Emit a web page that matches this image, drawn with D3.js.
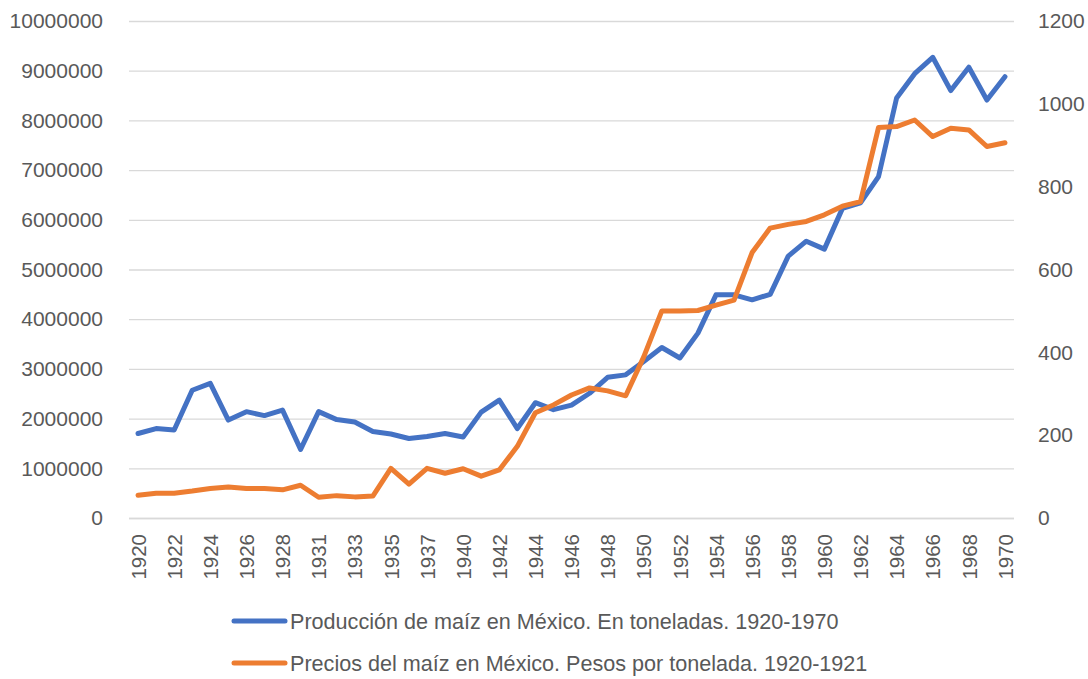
<!DOCTYPE html>
<html>
<head>
<meta charset="utf-8">
<script src="https://cdn.jsdelivr.net/npm/d3@7"></script>
<style>
  body { margin: 0; background: #fff; }
  text { font-family: "Liberation Sans", Arial, sans-serif; fill: #595959; }
</style>
</head>
<body>
<div class="graph"></div>
<script>
// categories (two years are absent from the source table)
var years = ["1920","1921","1922","1923","1924","1925","1926","1927","1928","1929",
  "1931","1932","1933","1934","1935","1936","1937","1938",
  "1940","1941","1942","1943","1944","1945","1946","1947","1948","1949",
  "1950","1951","1952","1953","1954","1955","1956","1957","1958","1959",
  "1960","1961","1962","1963","1964","1965","1966","1967","1968","1969","1970"];

// tonnes
var produccion = [1700000,1800000,1770000,2570000,2710000,1970000,2140000,2060000,2170000,1380000,
  2140000,1980000,1930000,1740000,1690000,1600000,1640000,1700000,
  1630000,2130000,2370000,1800000,2320000,2180000,2270000,2510000,2830000,2880000,
  3150000,3430000,3220000,3720000,4490000,4490000,4390000,4500000,5270000,5570000,
  5410000,6230000,6340000,6870000,8450000,8940000,9270000,8600000,9070000,8410000,8880000];

// pesos per tonne
var precios = [55,60,60,65,71,75,71,71,68,79,
  50,54,51,53,120,82,120,108,
  119,101,116,173,254,273,297,314,307,295,
  389,500,500,501,514,526,641,700,709,716,
  732,753,764,943,945,961,921,941,937,897,906];

var leftTicks = [0,1000000,2000000,3000000,4000000,5000000,6000000,7000000,8000000,9000000,10000000];
var rightTicks = [0,200,400,600,800,1000,1200];

var seriesNames = ["Producción de maíz en México. En toneladas. 1920-1970",
  "Precios del maíz en México. Pesos por tonelada. 1920-1921"];
var colors = ["#4472C4", "#ED7D31"];

const w = 1088, h = 679;
const pLeft = 129, pRight = 1014, pTop = 21, pBottom = 518;

const svg = d3.select(".graph").append("svg")
  .attr("width", w).attr("height", h);

const x = d3.scalePoint().domain(years).range([pLeft, pRight]).padding(0.5);
const yL = d3.scaleLinear().domain([0, 10000000]).range([pBottom, pTop]);
const yR = d3.scaleLinear().domain([0, 1200]).range([pBottom, pTop]);

// gridlines
svg.append("g")
  .attr("transform", "translate(" + pLeft + ",0)")
  .call(d3.axisLeft(yL).tickValues(leftTicks).tickSize(-(pRight - pLeft)).tickFormat(""))
  .call(g => g.select(".domain").remove())
  .selectAll("line").attr("stroke", "#D9D9D9").attr("stroke-width", 1.3);

// left axis labels
svg.append("g")
  .attr("transform", "translate(" + (pLeft - 23) + ",0)")
  .call(d3.axisLeft(yL).tickValues(leftTicks).tickSize(0).tickFormat(d3.format("d")))
  .call(g => g.select(".domain").remove())
  .selectAll("text").style("font-size", "21px").attr("fill", "#595959")
  .attr("font-family", "Liberation Sans, Arial, sans-serif");

// right axis labels
svg.append("g")
  .attr("transform", "translate(" + (pRight + 21) + ",0)")
  .call(d3.axisRight(yR).tickValues(rightTicks).tickSize(0).tickFormat(d3.format("d")))
  .call(g => g.select(".domain").remove())
  .selectAll("text").style("font-size", "21px").attr("fill", "#595959")
  .attr("font-family", "Liberation Sans, Arial, sans-serif");

// x axis, every other label, rotated
svg.append("g")
  .attr("transform", "translate(0," + pBottom + ")")
  .call(d3.axisBottom(x).tickValues(years.filter((d, i) => i % 2 === 0)).tickSize(0))
  .call(g => g.select(".domain").attr("stroke", "#D9D9D9").attr("stroke-width", 1.3)
    .attr("d", "M" + pLeft + ",0.5H" + pRight))
  .selectAll("text")
  .style("font-size", "20.5px").attr("fill", "#595959")
  .attr("font-family", "Liberation Sans, Arial, sans-serif")
  .attr("transform", "rotate(-90)")
  .attr("text-anchor", "end")
  .attr("x", -16)
  .attr("y", 0)
  .attr("dy", "0.35em");

const lineL = d3.line().x((d, i) => x(years[i])).y(d => yL(d));
const lineR = d3.line().x((d, i) => x(years[i])).y(d => yR(d));

svg.append("path").datum(produccion)
  .attr("d", lineL).attr("fill", "none").attr("stroke", colors[0])
  .attr("stroke-width", 5).attr("stroke-linejoin", "round").attr("stroke-linecap", "round");

svg.append("path").datum(precios)
  .attr("d", lineR).attr("fill", "none").attr("stroke", colors[1])
  .attr("stroke-width", 5).attr("stroke-linejoin", "round").attr("stroke-linecap", "round");

// legend
const legend = svg.append("g");
seriesNames.forEach(function(name, i) {
  var ly = 621 + i * 42;
  legend.append("line")
    .attr("x1", 234).attr("x2", 285).attr("y1", ly).attr("y2", ly)
    .attr("stroke", colors[i]).attr("stroke-width", 5).attr("stroke-linecap", "round");
  legend.append("text")
    .attr("x", 290).attr("y", ly).attr("dy", "0.35em")
    .style("font-size", "21.6px")
    .text(name);
});
</script>
</body>
</html>
